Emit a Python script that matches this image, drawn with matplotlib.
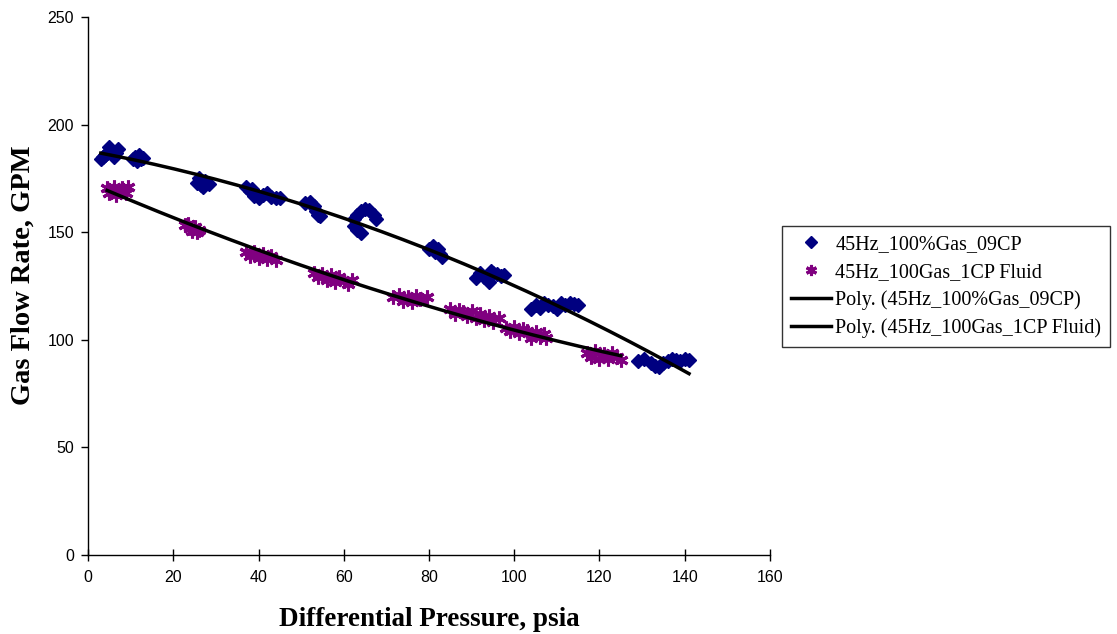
import numpy as np
import matplotlib
matplotlib.use("Agg")
import matplotlib.pyplot as plt

# Series 1: 45Hz_100%Gas_09CP (differential pressure psia, gas flow rate GPM)
gas09_x = [3.0, 3.5, 4.0, 4.5, 5.0, 5.5, 6.0, 6.5, 7.0,
           10.5, 11.0, 11.5, 12.0, 12.5, 13.0,
           25.5, 26.0, 26.5, 27.0, 27.5, 28.0, 28.5,
           37.0, 38.0, 38.5, 39.0, 40.0, 41.0, 42.0, 43.0, 44.0, 45.0,
           51.0, 52.0, 52.5, 53.0, 53.5, 54.0, 54.5,
           67.5, 67.0, 66.0, 65.0, 64.0, 63.0, 62.5, 62.5, 63.0, 64.0,
           80.0, 81.0, 81.5, 82.0, 82.5, 83.0,
           91.0, 92.0, 93.0, 94.0, 94.5, 95.0, 96.0, 97.0, 97.5,
           104.0, 105.0, 106.0, 107.0, 108.0, 109.0, 110.0, 111.0, 112.0, 113.0, 114.0, 115.0,
           129.0, 130.5, 132.0, 133.0, 134.0, 135.0, 136.0, 137.0, 138.0, 139.0, 140.0, 141.0]
gas09_y = [184, 185, 186, 187, 189.5, 188, 185, 187, 188.5,
           184, 185, 183, 186, 184, 184.5,
           173, 175, 172, 171, 174, 173, 172.5,
           171, 169, 170, 167, 166, 167.5, 168, 166.5, 166, 166,
           163.5, 164, 162.5, 162, 160, 158, 157.5,
           156, 158, 160.5, 161, 160, 158, 156, 153, 151, 149.5,
           142, 143.5, 141, 142, 140, 138.5,
           128.5, 131, 129, 127, 132, 131, 130.5, 129.5, 130,
           114.5, 116, 115, 117, 116, 115.5, 114.5, 117, 116, 117, 116.5, 116,
           90, 91, 89, 88, 87.5, 89, 90, 91, 90.5, 90, 91, 90.5]

# Series 2: 45Hz_100Gas_1CP Fluid
gas1_x = [4.5, 5.0, 6.0, 6.5, 7.0, 8.0, 9.0, 9.5,
          22.7, 23.5, 24.0, 24.5, 25.0, 25.5, 26.0,
          37.0, 38.0, 39.0, 40.0, 41.0, 42.0, 43.0, 44.0,
          53.0, 54.0, 55.0, 56.0, 57.0, 58.0, 59.0, 60.0, 61.0, 62.0,
          71.5, 73.0, 74.0, 75.0, 76.0, 77.0, 78.0, 79.5,
          85.0, 86.0, 87.0, 88.0, 89.0, 90.0, 91.0, 92.0, 93.0, 94.0, 95.0, 96.5,
          98.0, 99.0, 100.0, 101.0, 102.0, 103.0, 104.0, 105.0, 106.0, 107.0, 107.5,
          117.0, 118.0, 119.0, 120.0, 121.0, 122.0, 123.0, 124.0, 125.0]
gas1_y = [170.5, 168, 171, 167.5, 169, 170.5, 168, 171,
          153.5, 154, 152, 150.5, 152.5, 150, 151,
          141, 139, 141, 138, 140, 137.5, 139, 137,
          131, 129, 130.5, 128, 130, 127, 129, 127.5, 126, 128,
          120, 121, 118, 120, 117.5, 120.5, 119, 120,
          114.5, 112, 114, 113, 111, 113.5, 110, 112, 109, 111, 108.5, 110,
          105.5, 104, 106, 103, 105, 104, 101, 103.5, 101.5, 102.5, 101,
          94, 92, 95, 91, 93.5, 91, 94, 92, 90.5]

label1 = "45Hz_100%Gas_09CP"
label2 = "45Hz_100Gas_1CP Fluid"

fig = plt.figure(figsize=(11.17, 6.34), dpi=100)
ax = fig.add_axes([88/1117, 1 - 555/634, (770-88)/1117, (555-17)/634])

ax.plot(gas09_x, gas09_y, linestyle="none", marker="D", markersize=7.5,
        color="#000080", label=label1)
ax.plot(gas1_x, gas1_y, linestyle="none", marker=(6, 2, 0), markersize=10,
        markeredgewidth=2.2, color="#800080", label=label2)

# 2nd order polynomial trendlines
for xs, ys, lab in [(gas09_x, gas09_y, label1), (gas1_x, gas1_y, label2)]:
    c = np.polyfit(xs, ys, 2)
    xx = np.linspace(min(xs), max(xs), 200)
    ax.plot(xx, np.polyval(c, xx), color="black", linewidth=2.5,
            label=f"Poly. ({lab})")

ax.set_xlim(0, 160)
ax.set_ylim(0, 250)
ax.set_xticks(np.arange(0, 161, 20))
ax.set_yticks(np.arange(0, 251, 50))
for s in ["top", "right"]:
    ax.spines[s].set_visible(False)
for s in ["left", "bottom"]:
    ax.spines[s].set_linewidth(1.0)
ax.tick_params(axis="x", direction="inout", length=8, width=1,
               labelsize=11.5, pad=7)
ax.tick_params(axis="y", direction="out", length=5, width=1,
               labelsize=11.5, pad=5)
for t in ax.get_xticklabels() + ax.get_yticklabels():
    t.set_fontfamily("Liberation Sans")

ax.set_xlabel("Differential Pressure, psia", fontfamily="Liberation Serif",
              fontweight="bold", fontsize=19.5, labelpad=16)
ax.set_ylabel("Gas Flow Rate, GPM", fontfamily="Liberation Serif",
              fontweight="bold", fontsize=20.5)
ax.yaxis.set_label_coords(-0.076, 0.52)

leg = fig.legend(loc="center left", bbox_to_anchor=(782/1117, 1 - 286.5/634),
                 prop={"family": "Liberation Serif", "size": 14.5},
                 frameon=True, fancybox=False, edgecolor="black",
                 handlelength=2.0, handletextpad=0.2, borderpad=0.45,
                 labelspacing=0.42, borderaxespad=0, markerscale=0.8)
leg.get_frame().set_linewidth(1.0)

fig.savefig("out.png", dpi=100)
